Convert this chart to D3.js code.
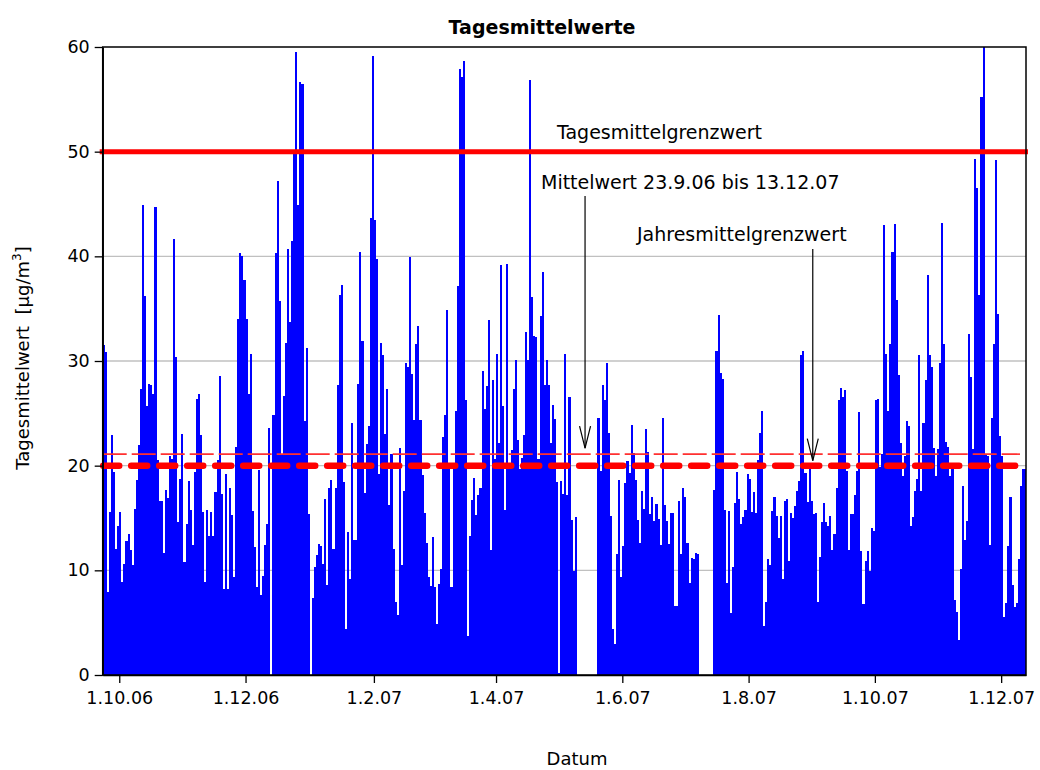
<!DOCTYPE html>
<html><head><meta charset="utf-8">
<script src="https://cdn.jsdelivr.net/npm/d3@7"></script>
<style>
body{margin:0;background:#fff;}
svg{display:block;font-family:"DejaVu Sans",Verdana,sans-serif;}
</style>
</head><body><svg id="chart" width="1040" height="770"></svg>
<script>
// ---- data: daily means (µg/m³), one value per day from startDate; null = no data ----
const startDate = "2006-09-23";
const endDate = "2007-12-13";
const valuesA = [31.5,30.9,7.9,15.6,22.9,19.4,12.0,14.2,15.6,8.9,10.6,12.8,13.5,11.9,10.5,15.9,18.6,22.0,27.3,44.9,36.2,25.7,27.8,27.7,26.8,44.7,20.5,16.6,16.6,11.7,17.7,16.9,20.9,20.6,41.7,30.4,14.6,18.7,23.0,10.8,14.4,18.5,15.8,12.4,19.4,26.4,26.8,22.9,15.6,8.9,15.8,13.3,15.6,13.3,17.5];
const valuesB = [20.5,28.6,17.3,8.2,19.2,8.2,17.9,15.3,9.4,21.8,34,40.3,40,37.7,34,26.8,30.7,15.7,12.2,8.4,19.6,7.6,9.5,12.4,14.4,23.6,0,24.8,40.3,47.2,35.7,21,26.7,31.7,40.7,33.7,41.5,50,59.5,44.9,56.7,56.5,24.3,31.2,15.4,0,7.4,10.3,11.5,12.5,12.3,10.6,16.8,8.6,17.9,18.6,12];
const valuesC = [17.9,27.7,36.3,37.3,18.4,4.4,13.7,9.2,24.1,12.9,12.9,27.8,40.4,31.9,17.4,22.1,23.8,43.7,59.1,43.5,39.7,19.2,31.7,30.6,23,27.3,16.2,21.1,12,7,5.7,21.7,10.5,17.6,29.8,29.4,39.9,28.8,24.4,31.6,33.3,24.4,19.1,15.5,12.6,9.4,8.5,13.2,8.4,4.9,8.7,10.1,22.7,24.8,34.9,20.1,8.4];
const valuesD = [20.1,25.2,37.2,57.9,57.1,58.7,26.3,3.7,13.3,16.7,18.8,15.3,17.2,17.9,29,25.4,27.6,33.9,11.9,28.2,20.6,30.7,22.2,39.2,25.7,15.8,39.3,19.7,21.5,27.3,30.1,22.5,19.7,20.7,22.9,32.8,30.1,56.8,36.1,32.4,32.3,20.6,34.3,38.5,27.7,30.1,27.7,22.2,25.8,24.5,18.4,0.2,18.5,17.3,30.7,17.2,26.6];
const valuesE = [14.8,9.9,15.1,null,null,null,null,null,null,null,null,null,null,24.6,19.5,27.7,26.3,29.8,23.1,15.2,4.4,3.0,11.6,18.6,9.4,12.3,18.3,20.4,19.3,23.9,21.2,18.6,14.8,12.6,17.6,15.9,23.5,21.3,15.4,17,14.7,16.3,14.9,12.4,24.6,16.2,14.7,12.5,15.5,15.5,6.6,6.6,16.6,11.6,17.9,17];
const valuesF = [12.6,8.8,11.2,11.1,11.7,11.6,null,null,null,null,null,null,null,17.7,31,34.4,28.9,28.3,15.8,8.8,15.7,5.9,10.3,16.4,19.4,16.8,14.4,15.1,15.8,19.2,18.7,15.6,17.5,15.5,20.5,23.1,25.2,4.7,7,11.1,10.5,15.7,17,15.2,13.1,15.2,9.2,16.6,16.8,10.9,15.5,15,16.1,17.6,18.5,30.6,31];
const valuesG = [19.3,16.5,20.3,16.6,15.4,15.5,7,11.3,14.6,16.4,14.6,14.2,15.2,11.9,13.5,17.9,26.3,27.4,26.6,27.2,19.5,11.9,15.4,15.4,17.2,19.5,25.1,11.8,6.8,10.9,11.8,9.9,14,13.8,26.3,26.4,19.9,21.1,43,30.7,25.2,31.6,40.4,43.1,35.8,28.7,22.2,19,20.9,24.3,23.8,14.2,15.1,17.6,18.7,30.6];
const valuesH = [17.6,24.1,28.2,38.2,30.6,29.4,21.7,19,21.6,29.8,43.2,31.6,22.3,21.8,19,20.1,7.2,6,3.3,10.1,18.1,12.9,14.7,32.6,28.5,21.6,49.3,46.5,36.3,55.2,60,21,20.9,12.4,24.6,31.6,49.2,34.5,22.8,20.9,5.5,6.9,12.3,17,8.6,6.5,6.9,11.1,18.1,19.7,19.7];

const limitDaily = 50;     // Tagesmittelgrenzwert
const limitAnnual = 20;    // Jahresmittelgrenzwert
const meanValue = 21.1;    // Mittelwert 23.9.06 bis 13.12.07

const xTickDates = ["2006-10-01","2006-12-01","2007-02-01","2007-04-01","2007-06-01","2007-08-01","2007-10-01","2007-12-01"];
const xTickLabels = ["1.10.06","1.12.06","1.2.07","1.4.07","1.6.07","1.8.07","1.10.07","1.12.07"];
const yTicks = [0,10,20,30,40,50,60];
const yGrid = [10,20,30,40,50];

const titleText = "Tagesmittelwerte";
const xTitle = "Datum";
const labelDaily = "Tagesmittelgrenzwert";
const labelMean = "Mittelwert 23.9.06 bis 13.12.07";
const labelAnnual = "Jahresmittelgrenzwert";
const arrowMeanDate = "2007-05-14";
const arrowAnnualDate = "2007-09-01";

// ---- layout ----
const L = 102.7, R = 1026, T = 47, B = 675;
const parse = d3.utcParse("%Y-%m-%d");
const svg = d3.select("#chart");

const x = d3.scaleUtc().domain([parse(startDate), parse(endDate)]).range([L, R]);
const y = d3.scaleLinear().domain([0, 60]).range([B, T]);

const all = [].concat(valuesA, valuesB, valuesC, valuesD, valuesE, valuesF, valuesG, valuesH);
const start = parse(startDate);
const daily = all.map((v, i) => ({date: d3.utcDay.offset(start, i), next: d3.utcDay.offset(start, i + 1), value: v}));

// grid
svg.append("g").selectAll("line").data(yGrid).join("line")
  .attr("x1", L).attr("x2", R).attr("y1", d => y(d)).attr("y2", d => y(d))
  .attr("stroke", "#c0c0c0").attr("stroke-width", 1.3);

// bars
svg.append("clipPath").attr("id", "clip").append("rect")
  .attr("x", L).attr("y", T).attr("width", R - L).attr("height", B - T);
svg.append("g").attr("clip-path", "url(#clip)")
  .selectAll("rect").data(daily.filter(d => d.value != null && d.value > 0)).join("rect")
  .attr("x", d => x(d.date))
  .attr("width", d => x(d.next) - x(d.date))
  .attr("y", d => y(d.value))
  .attr("height", d => y(0) - y(d.value))
  .attr("fill", "#0000ff")
  .attr("shape-rendering", "crispEdges");

// reference lines
svg.append("line").attr("x1", L - 3).attr("x2", R + 2)
  .attr("y1", y(limitDaily)).attr("y2", y(limitDaily))
  .attr("stroke", "#ff0000").attr("stroke-width", 5);
svg.append("line").attr("x1", L).attr("x2", R - 6)
  .attr("y1", y(meanValue)).attr("y2", y(meanValue))
  .attr("stroke", "#ff3030").attr("stroke-width", 1.6).attr("stroke-dasharray", "24,5");
svg.append("line").attr("x1", L + 0.5).attr("x2", R - 9)
  .attr("y1", y(limitAnnual)).attr("y2", y(limitAnnual))
  .attr("stroke", "#ff0000").attr("stroke-width", 6.5)
  .attr("stroke-linecap", "round").attr("stroke-dasharray", "16,12");

// frame
svg.append("rect").attr("x", L).attr("y", T).attr("width", R - L).attr("height", B - T)
  .attr("fill", "none").attr("stroke", "#000").attr("stroke-width", 1.5);

// axes
const yAxis = svg.append("g").attr("transform", `translate(${L},0)`)
  .call(d3.axisLeft(y).tickValues(yTicks).tickSize(8).tickSizeOuter(0).tickPadding(5));
yAxis.select(".domain").attr("stroke-width", 1.5);
yAxis.selectAll(".tick line").attr("stroke-width", 1.3);
yAxis.selectAll("text").attr("font-size", 17.5).attr("fill", "#000")
  .attr("font-family", '"DejaVu Sans",Verdana,sans-serif');

const xAxis = svg.append("g").attr("transform", `translate(0,${B})`)
  .call(d3.axisBottom(x).tickValues(xTickDates.map(parse))
    .tickFormat((d, i) => xTickLabels[i]).tickSize(8).tickSizeOuter(0).tickPadding(9));
xAxis.select(".domain").attr("stroke-width", 1.5);
xAxis.selectAll(".tick line").attr("stroke-width", 1.3);
xAxis.selectAll("text").attr("font-size", 17.5).attr("fill", "#000")
  .attr("font-family", '"DejaVu Sans",Verdana,sans-serif');

// titles
svg.append("text").attr("x", 542).attr("y", 34).attr("text-anchor", "middle")
  .attr("font-size", 19).attr("font-weight", "bold").text(titleText);
svg.append("text").attr("x", 577).attr("y", 765).attr("text-anchor", "middle")
  .attr("font-size", 18).text(xTitle);
const yt = svg.append("text").attr("transform", "translate(29,358) rotate(-90)")
  .attr("text-anchor", "middle").attr("font-size", 18).style("white-space", "pre");
yt.append("tspan").text("Tagesmittelwert  [µg/m");
yt.append("tspan").attr("font-size", 12).attr("dy", -8).text("3");
yt.append("tspan").attr("dy", 8).text("]");

// annotations
svg.append("text").attr("x", 557).attr("y", 139).attr("font-size", 19).text(labelDaily);
svg.append("text").attr("x", 541).attr("y", 189).attr("font-size", 19).text(labelMean);
svg.append("text").attr("x", 637).attr("y", 241).attr("font-size", 19).text(labelAnnual);

function arrow(xp, y0, y1) {
  const g = svg.append("g").attr("stroke", "#000").attr("stroke-width", 1.2).attr("fill", "none");
  g.append("line").attr("x1", xp).attr("x2", xp).attr("y1", y0).attr("y2", y1);
  g.append("path").attr("d", `M${xp - 5.5},${y1 - 22}L${xp},${y1}L${xp + 5.5},${y1 - 22}`);
}
arrow(x(parse(arrowMeanDate)), 196, y(meanValue) - 6);
arrow(x(parse(arrowAnnualDate)), 249, y(limitAnnual) - 5);
</script>
</body></html>
